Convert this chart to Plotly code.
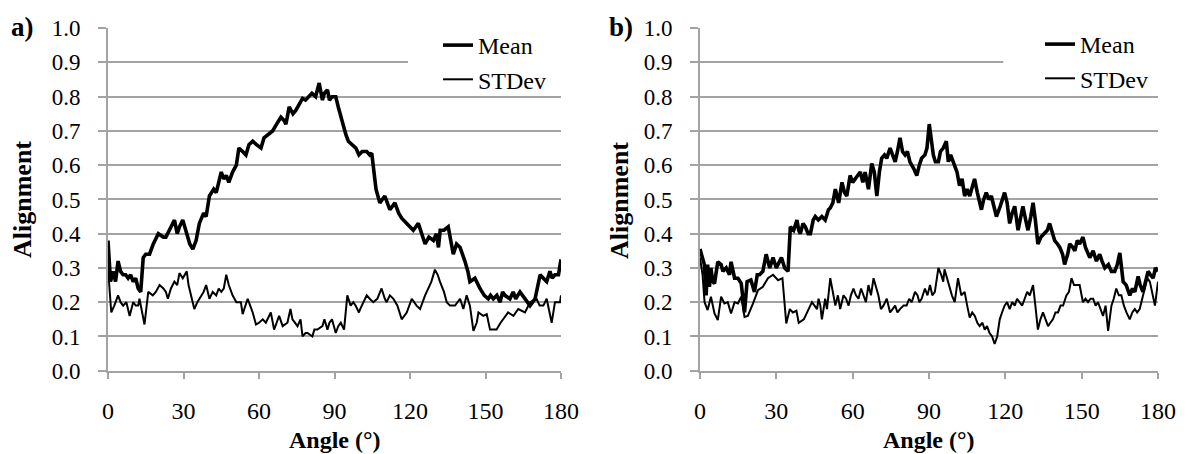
import plotly.graph_objects as go

# ---------------- data ----------------
a_mean_x = [0, 1, 2, 3, 4, 5, 6, 7, 8, 9, 10, 11, 12, 13, 14, 15, 16.5, 18, 20, 22, 23, 24.5, 26.4, 27.5,
            28.4, 29.7, 31, 32.5, 33.7, 35, 36.3, 38, 39, 40.3, 42, 43, 44, 45, 46, 47, 48, 49.5, 51, 52,
            53.5, 54.8, 56, 57.5, 59, 60.8, 62, 63.5, 65.4, 67, 68.7, 70, 70.7, 72, 73.5, 74.6, 76, 77.3,
            78.5, 80, 81, 82.5, 83.9, 85.2, 86, 87.2, 88, 89, 90.5, 91.5, 92.5, 93.5, 94.5, 95.5, 97, 98.5,
            99.7, 101, 102.8, 104, 104.8, 105.4, 106.5, 108, 110, 112, 113, 114, 115.5, 116.7, 118.7, 120,
            121.3, 123.3, 124.5, 126, 127.5, 129.3, 130.5, 131.3, 132, 133.5, 135.2, 137.2, 138.5, 139.9,
            141.8, 143, 143.8, 145.8, 147.8, 149.5, 151.1, 152, 153.1, 154.5, 155.8, 156.8, 157.7, 159.7,
            161, 162, 163.7, 165.7, 167.7, 169.7, 171.7, 173, 174.3, 175.6, 176.5, 177.6, 179, 180]
a_mean_y = [0.38, 0.26, 0.29, 0.26, 0.32, 0.29, 0.28, 0.28, 0.27, 0.28, 0.26, 0.27, 0.24, 0.23, 0.33, 0.34,
            0.34, 0.37, 0.40, 0.39, 0.39, 0.41, 0.44, 0.40, 0.42, 0.44, 0.41, 0.37, 0.355, 0.38, 0.43, 0.46,
            0.45, 0.51, 0.53, 0.52, 0.55, 0.58, 0.56, 0.57, 0.55, 0.58, 0.60, 0.65, 0.64, 0.63, 0.66, 0.67,
            0.66, 0.65, 0.68, 0.69, 0.70, 0.72, 0.74, 0.73, 0.72, 0.77, 0.75, 0.76, 0.78, 0.795, 0.79, 0.80,
            0.81, 0.80, 0.84, 0.79, 0.81, 0.82, 0.79, 0.80, 0.80, 0.77, 0.74, 0.71, 0.69, 0.67, 0.66, 0.65,
            0.63, 0.64, 0.64, 0.63, 0.635, 0.60, 0.53, 0.49, 0.51, 0.47, 0.48, 0.49, 0.46, 0.445, 0.43, 0.42,
            0.41, 0.43, 0.40, 0.37, 0.39, 0.38, 0.40, 0.36, 0.41, 0.41, 0.42, 0.34, 0.37, 0.36, 0.32, 0.29,
            0.26, 0.27, 0.24, 0.22, 0.21, 0.22, 0.21, 0.22, 0.20, 0.23, 0.22, 0.21, 0.23, 0.21, 0.23, 0.21,
            0.19, 0.21, 0.28, 0.27, 0.26, 0.29, 0.27, 0.28, 0.28, 0.325]

a_std_x = [0, 1.3, 2.5, 4, 5, 6, 7.3, 8.6, 10, 11, 12, 12.5, 14.5, 15.5, 16, 17.8, 19, 20.5, 22, 23, 23.8,
           25, 26.4, 27.5, 28.4, 29.7, 31.3, 32, 33, 34.3, 35.5, 36.3, 38, 39, 40.3, 41.6, 43, 44, 45, 46,
           47, 48, 49.5, 51, 52.8, 53.5, 54.5, 55.5, 56.5, 57.5, 58.8, 60, 61.5, 62.7, 64.7, 66, 67, 68,
           69.4, 71.3, 72.5, 73.3, 75.3, 76.5, 77.3, 78.5, 79.3, 81.2, 82, 83.2, 85.2, 86, 87.2, 88, 89,
           90.5, 91.5, 92.5, 93.8, 95.1, 96.4, 97.5, 98.4, 99.7, 100.2, 101.5, 102.8, 104, 105.4, 107,
           108.7, 110, 110.7, 112, 113.4, 115, 116.7, 118.7, 120.7, 122.6, 124, 126, 127.3, 128.5, 129.9,
           131, 131.9, 133.5, 134.6, 135.9, 137.9, 139.9, 141.2, 142.5, 143.8, 145.2, 146.5, 147.2, 149.1,
           150.5, 151.8, 153, 154.4, 156, 157.1, 159, 161.1, 163, 165.7, 167.7, 170.3, 171.5, 173, 174.3,
           176.3, 177.6, 179.6, 180]
a_std_y = [0.30, 0.17, 0.19, 0.22, 0.20, 0.19, 0.20, 0.16, 0.20, 0.19, 0.19, 0.21, 0.135, 0.20, 0.23, 0.22,
           0.23, 0.25, 0.24, 0.23, 0.21, 0.24, 0.26, 0.25, 0.285, 0.27, 0.29, 0.25, 0.22, 0.18, 0.20, 0.21,
           0.23, 0.25, 0.21, 0.23, 0.22, 0.24, 0.23, 0.24, 0.28, 0.25, 0.22, 0.20, 0.20, 0.165, 0.19, 0.21,
           0.19, 0.17, 0.135, 0.14, 0.15, 0.14, 0.17, 0.12, 0.14, 0.16, 0.13, 0.14, 0.18, 0.15, 0.13, 0.15,
           0.10, 0.11, 0.11, 0.10, 0.12, 0.12, 0.13, 0.15, 0.12, 0.14, 0.15, 0.11, 0.13, 0.14, 0.12, 0.22,
           0.19, 0.20, 0.19, 0.17, 0.18, 0.20, 0.22, 0.21, 0.20, 0.21, 0.24, 0.21, 0.20, 0.22, 0.21, 0.19,
           0.15, 0.17, 0.21, 0.19, 0.18, 0.22, 0.24, 0.26, 0.295, 0.28, 0.26, 0.23, 0.20, 0.19, 0.19, 0.21,
           0.18, 0.22, 0.19, 0.116, 0.14, 0.17, 0.16, 0.165, 0.12, 0.12, 0.12, 0.14, 0.15, 0.17, 0.16, 0.18,
           0.17, 0.20, 0.21, 0.19, 0.19, 0.21, 0.14, 0.20, 0.20, 0.22]

b_mean_x = [0, 1, 1.7, 2.4, 3, 3.7, 4.3, 5, 5.7, 7, 8.3, 9, 10.3, 11.6, 12.2, 13.6, 14.9, 16.2, 17.5,
            18.5, 20, 21.4, 22.5, 23.4, 24.7, 26, 27.4, 28.7, 30, 32, 33.3, 34.6,
            35.5, 36.8, 38.1, 38.8, 39.4, 40.5, 41.4, 42.5, 43.4, 44.5, 45.3, 46.5, 47.9, 49.2, 50.5,
            51.2, 52.2, 53.2, 54.5, 55.8, 56.8, 57.7, 59, 60, 61, 62, 63, 64, 64.9, 66.2, 67.5, 68.5, 69.5,
            70.5, 71.4, 72.5, 73.4, 74.7, 75.7, 76.7, 77.6, 78.6, 79.6, 80.6, 81.5, 82.5, 84, 85.2, 86.2,
            87.1, 88.4, 89.2, 90.1, 91, 91.7, 92.5, 93.7, 94.5, 95.6, 96.8, 97.6, 98.5, 100.1, 101, 102,
            103, 104, 105, 106, 107.9, 109, 110.6, 111.5, 112.5, 113.5, 114.5, 115.5, 116.5, 118, 119.7,
            120.7, 121.7, 122.7, 123.7, 125, 126, 126.9, 128, 128.9, 130, 130.9, 131.8, 132.8, 134, 135.5,
            136.5, 137.4, 138.5, 139.4, 140.5, 141.4, 142.5, 143.3, 144.5, 145.3, 146.5, 147.3, 148.3,
            149.2, 150.5, 151.5, 153.2, 154.5, 155.8, 157.1, 158, 159.1, 160.5, 161.7, 163, 164, 165,
            166.3, 167.5, 168.9, 170, 170.9, 172.2, 173, 174.1, 175, 176.1, 177, 178.1, 179, 180]
b_mean_y = [0.355, 0.33, 0.31, 0.22, 0.31, 0.245, 0.30, 0.26, 0.255, 0.318, 0.31, 0.29, 0.30, 0.28, 0.318,
            0.27, 0.27, 0.255, 0.17, 0.26, 0.265, 0.23, 0.28, 0.28, 0.29, 0.34, 0.30, 0.33, 0.30, 0.33, 0.30,
            0.29, 0.42, 0.41, 0.44, 0.41, 0.40, 0.43, 0.42, 0.40, 0.40, 0.44,
            0.45, 0.44, 0.45, 0.44, 0.47, 0.475, 0.49, 0.53, 0.49, 0.55, 0.52, 0.51, 0.57, 0.55, 0.56, 0.57,
            0.58, 0.55, 0.58, 0.53, 0.605, 0.58, 0.51, 0.58, 0.62, 0.63, 0.62, 0.65, 0.63, 0.61, 0.64, 0.68,
            0.64, 0.63, 0.64, 0.61, 0.59, 0.57, 0.60, 0.62, 0.63, 0.65, 0.72, 0.66, 0.63, 0.61, 0.61, 0.64,
            0.65, 0.67, 0.61, 0.63, 0.60, 0.58, 0.54, 0.56, 0.51, 0.53, 0.51, 0.56, 0.52, 0.47, 0.50, 0.52,
            0.50, 0.51, 0.48, 0.45, 0.48, 0.52, 0.49, 0.43, 0.46, 0.48, 0.41, 0.45, 0.48, 0.44, 0.41, 0.45,
            0.49, 0.44, 0.37, 0.39, 0.40, 0.41, 0.43, 0.40, 0.38, 0.37, 0.36, 0.34, 0.31, 0.34, 0.37, 0.36,
            0.35, 0.38, 0.37, 0.39, 0.36, 0.33, 0.35, 0.32, 0.34, 0.32, 0.30, 0.31, 0.29, 0.29, 0.31, 0.344,
            0.26, 0.25, 0.22, 0.24, 0.23, 0.275, 0.25, 0.23, 0.26, 0.29, 0.28, 0.27, 0.30, 0.29]

b_std_x = [0, 1, 1.8, 3, 4.3, 5.7, 7, 8.3, 9.6, 10.9, 12.2, 13.6, 14.9, 16.2, 17.5, 18.8, 20.8, 22.8,
           24.7, 26.7, 28.7, 30.7, 32.4, 33.9, 35.3, 36.5, 37.9, 38.8,
           40.8, 42.7, 44, 45, 46, 46.6, 47.3, 47.9, 49.2, 49.9, 51.2, 53.2, 54.2, 55.1, 56.4, 57.4, 58.4,
           59.3, 60.3, 61.3, 62.3, 63.3, 64.3, 65.2, 66.2, 67.2, 68.2, 69.2, 70.1, 71.1, 72.1, 73.4, 74.7,
           75.7, 76.7, 77.6, 78.6, 80, 81.2, 82.2, 83.2, 84.5, 85.5, 86.2, 87.1, 88.4, 89.4, 90.4, 91.3,
           92.3, 93.7, 94.8, 95.6, 96.1, 97, 98.1, 99, 100.1, 101.4, 102.7, 104, 105, 106, 107, 108, 109,
           109.9, 111, 111.9, 112.8, 113.8, 114.8, 115.8, 116.8, 117.8, 118.7, 119.7, 120.7, 121.7, 122.7,
           123.7, 124.6, 125.6, 126.6, 127.6, 128.6, 129.6, 130.9, 131.8, 132.8, 133.8, 134.8, 135.8,
           136.8, 137.7, 138.7, 139.7, 140.7, 141.7, 142.7, 144, 145, 146, 147, 147.9, 149.2, 150.5,
           151.5, 152.5, 153.5, 154.5, 155.5, 156.4, 157.4, 158.4, 159.4, 160.4, 161.7, 162.6, 163.6,
           164.6, 165.6, 166.6, 167.6, 168.9, 169.9, 170.9, 171.8, 172.8, 173.8, 174.8, 175.8, 176.8,
           177.8, 178.8, 180]
b_std_y = [0.33, 0.28, 0.20, 0.177, 0.216, 0.167, 0.148, 0.216, 0.196, 0.20, 0.167, 0.20, 0.196, 0.216,
           0.157, 0.16, 0.196, 0.235, 0.245, 0.27, 0.28, 0.264, 0.27, 0.138, 0.18, 0.17, 0.175, 0.14,
           0.15, 0.18, 0.20, 0.19, 0.18, 0.21, 0.19, 0.15, 0.21, 0.18, 0.27, 0.19, 0.22,
           0.18, 0.22, 0.21, 0.19, 0.22, 0.24, 0.22, 0.21, 0.24, 0.22, 0.20, 0.25, 0.22, 0.27, 0.24, 0.22,
           0.18, 0.19, 0.21, 0.17, 0.18, 0.19, 0.17, 0.18, 0.19, 0.19, 0.21, 0.20, 0.23, 0.22, 0.20, 0.21,
           0.24, 0.22, 0.25, 0.22, 0.23, 0.30, 0.28, 0.26, 0.296, 0.27, 0.24, 0.22, 0.20, 0.27, 0.22, 0.23,
           0.19, 0.155, 0.17, 0.16, 0.14, 0.13, 0.14, 0.12, 0.13, 0.11, 0.10, 0.078, 0.10, 0.15, 0.17, 0.19,
           0.20, 0.18, 0.20, 0.19, 0.21, 0.20, 0.19, 0.21, 0.23, 0.22, 0.25, 0.19, 0.12, 0.15, 0.17, 0.15,
           0.13, 0.14, 0.15, 0.17, 0.17, 0.19, 0.19, 0.22, 0.23, 0.27, 0.25, 0.25, 0.25, 0.20, 0.21, 0.20,
           0.21, 0.21, 0.19, 0.20, 0.18, 0.16, 0.19, 0.116, 0.19, 0.21, 0.24, 0.22, 0.22, 0.19, 0.17, 0.15,
           0.17, 0.18, 0.17, 0.18, 0.21, 0.24, 0.27, 0.26, 0.22, 0.19, 0.26]

x_ticks = [0, 30, 60, 90, 120, 150, 180]
y_ticks = [round(0.1 * i, 1) for i in range(11)]
y_tick_text = [f"{v:.1f}" for v in y_ticks]
series_names = ["Mean", "STDev"]
panel_labels = ["a)", "b)"]
x_title = "Angle (°)"
y_title = "Alignment"

# ---------------- figure ----------------
W, H = 1187, 454
FONT = "Liberation Serif, Times New Roman, serif"
GRID = "#a3a3a3"

fig = go.Figure()
panels = [(a_mean_x, a_mean_y, a_std_x, a_std_y, "x", "y", "legend"),
          (b_mean_x, b_mean_y, b_std_x, b_std_y, "x2", "y2", "legend2")]
for mx, my, sx, sy, xa, ya, lg in panels:
    fig.add_trace(go.Scatter(x=mx, y=my, mode="lines", name=series_names[0],
                             line=dict(color="black", width=3.6), xaxis=xa, yaxis=ya, legend=lg))
    fig.add_trace(go.Scatter(x=sx, y=sy, mode="lines", name=series_names[1],
                             line=dict(color="black", width=2.0), xaxis=xa, yaxis=ya, legend=lg))

y_bot = 1 - 370.7 / H
y_top = 1 - 28 / H
dom_a = [108 / W, 561 / W]
dom_b = [700 / W, 1158 / W]

def xaxis(domain, anchor):
    return dict(domain=domain, anchor=anchor, range=[0, 180], tickvals=x_ticks,
                showgrid=False, zeroline=False, showline=True, linecolor=GRID, linewidth=2,
                ticks="outside", ticklen=6, tickwidth=2, tickcolor=GRID,
                tickfont=dict(family=FONT, size=24, color="black"), ticklabelstandoff=11,
                automargin=False, fixedrange=True)

def yaxis(anchor):
    return dict(domain=[y_bot, y_top], anchor=anchor, range=[0, 1.0005], tickvals=y_ticks,
                ticktext=y_tick_text, showgrid=True, gridcolor=GRID, gridwidth=2, zeroline=False,
                showline=True, linecolor=GRID, linewidth=2,
                ticks="outside", ticklen=8, tickwidth=2, tickcolor=GRID,
                tickfont=dict(family=FONT, size=23, color="black"), ticklabelstandoff=13,
                automargin=False, fixedrange=True)

leg_common = dict(font=dict(family=FONT, size=24, color="black"), bgcolor="rgba(0,0,0,0)",
                  borderwidth=0, xanchor="left", yanchor="top", tracegroupgap=0)

fig.update_layout(
    width=W, height=H, margin=dict(l=0, r=0, t=0, b=0),
    paper_bgcolor="white", plot_bgcolor="white", showlegend=True,
    xaxis=xaxis(dom_a, "y"), yaxis=yaxis("x"),
    xaxis2=xaxis(dom_b, "y2"), yaxis2=yaxis("x2"),
    legend=dict(x=438 / W, y=1 - 23 / H, **leg_common),
    legend2=dict(x=1040 / W, y=1 - 22 / H, **leg_common),
)

# white panel behind each legend, covering the gridline there (as in the reference)
for xr, yr in [("x", "y"), ("x2", "y2")]:
    fig.add_shape(type="rect", xref=xr, yref=yr, x0=119.2, x1=180, y0=0.812, y1=0.985,
                  fillcolor="white", line=dict(width=0), layer="between")

ann = []
for lab, xc, ycx, ylab_x in [(panel_labels[0], 22, 334.5, 22), (panel_labels[1], 621, 929, 619)]:
    ann.append(dict(text=f"<b>{lab}</b>", x=xc / W, y=1 - 27 / H, xref="paper", yref="paper",
                    xanchor="center", yanchor="middle", showarrow=False,
                    font=dict(family=FONT, size=27, color="black")))
    ann.append(dict(text=f"<b>{x_title}</b>", x=ycx / W, y=1 - 440 / H, xref="paper", yref="paper",
                    xanchor="center", yanchor="middle", showarrow=False,
                    font=dict(family=FONT, size=24, color="black")))
    ann.append(dict(text=f"<b>{y_title}</b>", x=ylab_x / W, y=1 - 200 / H, xref="paper", yref="paper",
                    xanchor="center", yanchor="middle", showarrow=False, textangle=-90,
                    font=dict(family=FONT, size=26, color="black")))
fig.update_layout(annotations=ann)

fig.write_html("out.html", config={"displayModeBar": False})
